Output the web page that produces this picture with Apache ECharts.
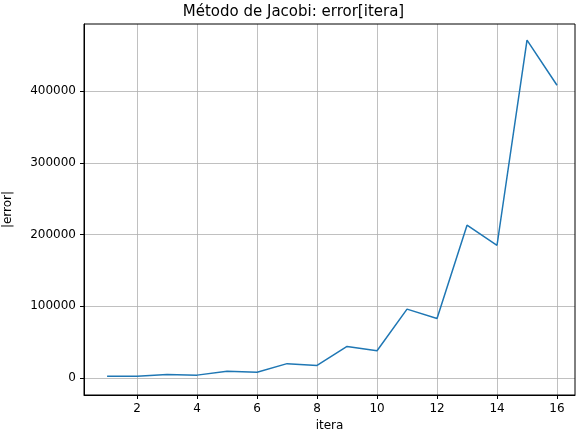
<!DOCTYPE html>
<html><head><meta charset="utf-8">
<script src="https://cdn.jsdelivr.net/npm/echarts@6/dist/echarts.min.js"></script>
<style>body{margin:0}#c{width:587px;height:436px}</style></head>
<body><div id="c"></div>
<script>
const itera = [1,2,3,4,5,6,7,8,9,10,11,12,13,14,15,16];
const errorVals = [2500,2500,5000,4000,9500,8000,20000,17500,44000,38000,96000,83000,213000,185000,471000,408000];
const xTicks = [2,4,6,8,10,12,14,16];
const yTicks = [0,100000,200000,300000,400000];
const chart = echarts.init(document.getElementById('c'));
const gridLines = xTicks.map(v=>({xAxis:v})).concat(yTicks.map(v=>({yAxis:v})));
chart.setOption({
  animation:false,
  title:{text:'Método de Jacobi: error[itera]',left:'center',top:0,textStyle:{fontFamily:'DejaVu Sans',fontSize:15,fontWeight:'normal',color:'#000'}},
  grid:{left:84,right:12,top:24,bottom:41,containLabel:false,outerBoundsMode:'none'},
  xAxis:{type:'value',min:0.23,max:16.6,name:'itera',nameLocation:'middle',nameGap:22,
    nameTextStyle:{fontFamily:'DejaVu Sans',fontSize:12,color:'#000'},
    axisLine:{onZero:false,lineStyle:{color:'#000'}},
    axisTick:{customValues:xTicks,length:4,inside:false,lineStyle:{color:'#000'}},
    axisLabel:{customValues:xTicks,fontFamily:'DejaVu Sans',fontSize:12,color:'#000'},
    splitLine:{show:false}},
  yAxis:{type:'value',min:-23700,max:493400,name:'|error|',nameLocation:'middle',nameGap:70,
    nameTextStyle:{fontFamily:'DejaVu Sans',fontSize:12,color:'#000'},
    axisLine:{show:true,onZero:false,lineStyle:{color:'#000'}},
    axisTick:{show:true,customValues:yTicks,length:4,lineStyle:{color:'#000'}},
    axisLabel:{customValues:yTicks,formatter:v=>String(v),fontFamily:'DejaVu Sans',fontSize:12,color:'#000'},
    splitLine:{show:false}},
  series:[{type:'line',data:itera.map((x,i)=>[x,errorVals[i]]),showSymbol:false,
    lineStyle:{color:'#1f77b4',width:1.5},
    markLine:{silent:true,symbol:'none',label:{show:false},lineStyle:{color:'#b0b0b0',type:'solid',width:0.8},data:gridLines,z:0}}]
});
chart.setOption({graphic:[{type:'rect',shape:{x:84,y:24,width:491,height:371},style:{fill:'none',stroke:'#000',lineWidth:1},z:100}]});
</script></body></html>
